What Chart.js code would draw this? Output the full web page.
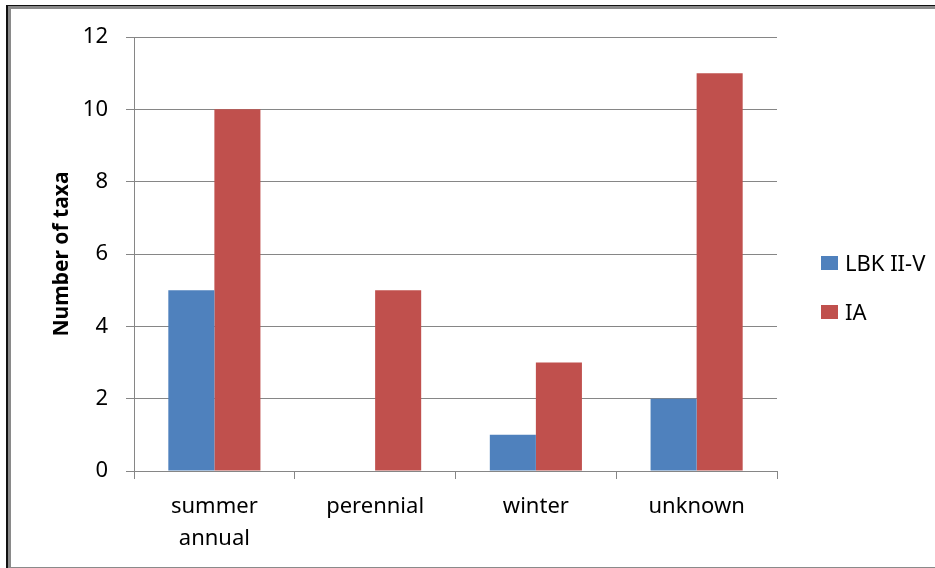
<!DOCTYPE html>
<html>
<head>
<meta charset="utf-8">
<script src="https://cdn.jsdelivr.net/npm/chart.js@4/dist/chart.umd.min.js"></script>
<style>
  html, body { margin: 0; padding: 0; background: #fff; }
  #wrap { position: relative; width: 935px; height: 568px; overflow: hidden; }
  #frame { position: absolute; left: 6px; top: 5px; width: 940px; height: 580px;
           border-left: 2px solid #111; border-top: 1px solid #111; }
  #frame2 { position: absolute; left: 0; top: 0; width: 940px; height: 558px;
            border-left: 3px solid #8a8a8a; border-top: 3px solid #8a8a8a; border-bottom: 2px solid #8a8a8a; }
  #chart { position: absolute; left: 0; top: 0; }
  #legend { position: absolute; left: 821px; top: 250px; font-family: "Noto Sans", sans-serif;
            font-size: 22px; color: #000; }
  .item { position: absolute; left: 0; white-space: nowrap; height: 26px; line-height: 26px; }
  .box { position: absolute; left: 0; top: 6px; width: 17px; height: 14px; }
  .lbl { position: absolute; left: 24px; top: -1px; }
</style>
</head>
<body>
<div id="wrap">
  <div id="frame"><div id="frame2"></div></div>
  <canvas id="chart" width="935" height="568"></canvas>
  <div id="legend"></div>
</div>
<script>
// data
const categories = [['summer', 'annual'], 'perennial', 'winter', 'unknown'];
const seriesNames = ['LBK II-V', 'IA'];
const lbkValues = [5, 0, 1, 2];
const iaValues = [10, 5, 3, 11];
const seriesColors = ['#4F81BD', '#C0504D'];

const gridColor = '#868686';
const font = { family: '"Noto Sans", sans-serif', size: 22 };

const chart = new Chart(document.getElementById('chart'), {
    type: 'bar',
    data: {
        labels: categories,
        datasets: [
            { label: seriesNames[0], data: lbkValues, backgroundColor: seriesColors[0] },
            { label: seriesNames[1], data: iaValues, backgroundColor: seriesColors[1] }
        ]
    },
    options: {
        responsive: false,
        animation: false,
        layout: { padding: { left: 40, right: 158, top: 37, bottom: 0 } },
        datasets: { bar: { categoryPercentage: 0.573, barPercentage: 1.0 } },
        plugins: { legend: { display: false }, tooltip: { enabled: false } },
        scales: {
            x: {
                grid: { drawOnChartArea: false, drawTicks: true, tickLength: 8, color: gridColor, offset: true },
                border: { display: true, color: gridColor, width: 1 },
                ticks: { color: '#000', font: { ...font, lineHeight: 1.45 }, padding: 12, maxRotation: 0 },
                afterFit: (s) => { s.height = 568 - 471; }
            },
            y: {
                min: 0,
                max: 12,
                ticks: { stepSize: 2, color: '#000', font: font, padding: 18 },
                grid: { color: gridColor, tickLength: 8, lineWidth: 1 },
                border: { display: true, color: gridColor, width: 1 },
                title: {
                    display: true,
                    text: 'Number of taxa',
                    color: '#000',
                    font: { family: '"Noto Sans", sans-serif', size: 21, weight: 'bold' },
                    padding: { top: 9, bottom: 0 }
                },
                afterFit: (s) => { s.width = 134 - 40; }
            }
        }
    }
});

// legend built from the datasets
const legend = document.getElementById('legend');
chart.data.datasets.forEach((ds, i) => {
    const item = document.createElement('div');
    item.className = 'item';
    item.style.top = (i * 49) + 'px';
    item.innerHTML = '<span class="box" style="background:' + ds.backgroundColor + '"></span>' +
                     '<span class="lbl">' + ds.label + '</span>';
    legend.appendChild(item);
});
</script>
</body>
</html>
